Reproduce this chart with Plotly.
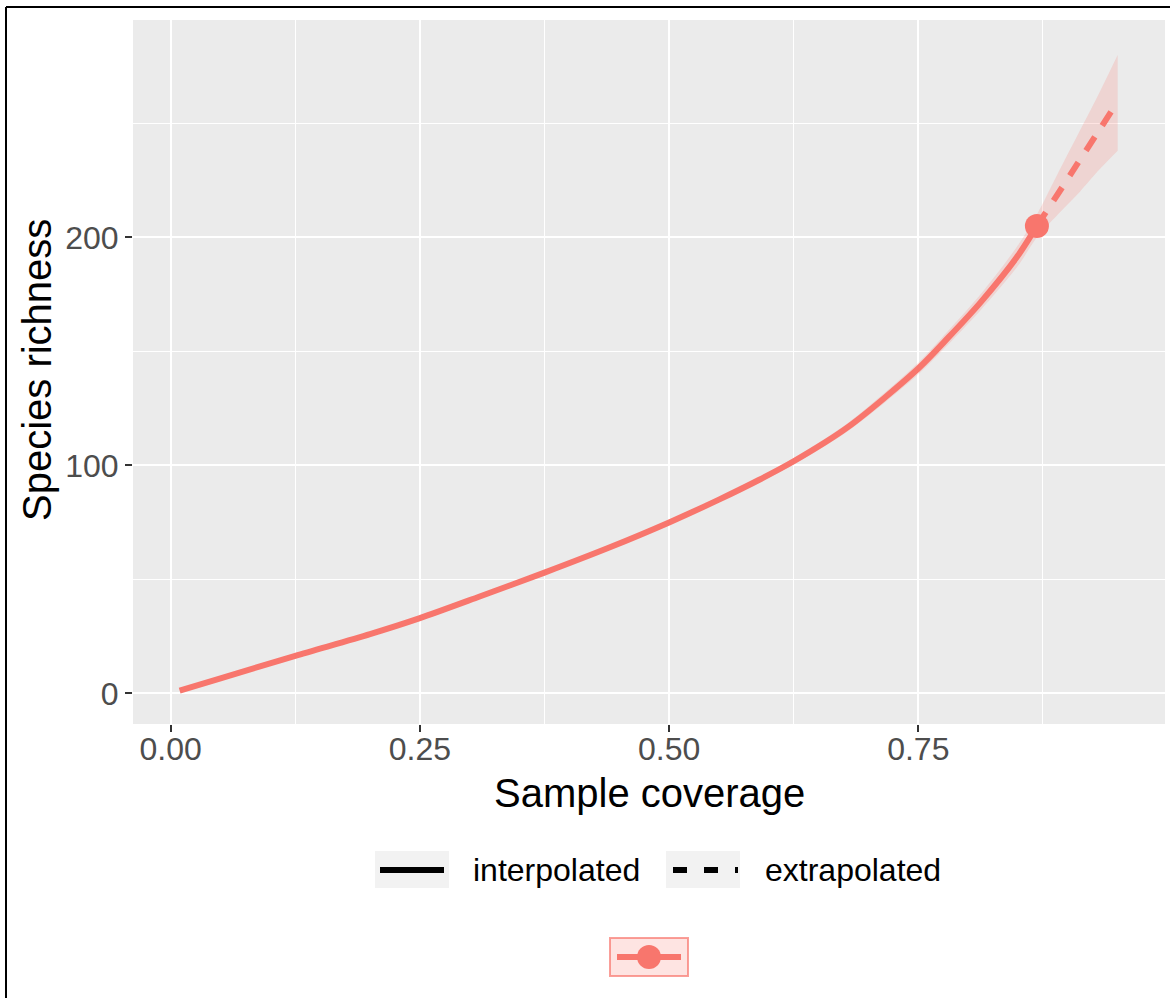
import plotly.graph_objects as go

# Coverage-based rarefaction (interpolated) and extrapolation of species richness
coverage_interp = [0.009, 0.05, 0.125, 0.2, 0.25, 0.31, 0.375, 0.44, 0.5, 0.55,
                   0.59, 0.625, 0.68, 0.75, 0.78, 0.8125, 0.85, 0.869]
richness_interp = [1.2, 6.6, 16.5, 26, 33, 42.5, 53, 64, 75, 85,
                   93.6, 101.8, 117, 142.5, 156, 171.5, 192, 205]
lower_interp = [1.2, 6.6, 16.3, 25.7, 32.6, 42, 52.4, 63.3, 74.1, 84,
                92.4, 100.4, 115.2, 140, 153, 168, 187.5, 200]
upper_interp = [1.2, 6.6, 16.7, 26.3, 33.4, 43, 53.6, 64.7, 75.9, 86,
                94.8, 103.2, 118.8, 145, 159, 175, 196.5, 210]

coverage_extrap = [0.869, 0.89, 0.91, 0.93, 0.95]
richness_extrap = [205, 219, 232.5, 246, 259.5]
lower_extrap = [200, 210, 219, 229, 238]
upper_extrap = [210, 228, 245, 262, 280]

observed_coverage = 0.869
observed_richness = 205

x_ticks = [0, 0.25, 0.5, 0.75]
y_ticks = [0, 100, 200]
legend_labels = ["interpolated", "extrapolated"]
x_title = "Sample coverage"
y_title = "Species richness"

LINE_COLOR = "#F8766D"
BAND_COLOR = "rgba(248,118,109,0.2)"
FONT = "Liberation Sans, Arial, sans-serif"

W, H = 1170, 998
PL, PR, PT, PB = 133, 1165, 20, 724  # panel edges in pixels


def px(xp):
    return (xp - PL) / (PR - PL)


def py(yp):
    return (PB - yp) / (PB - PT)


band_x = coverage_interp + coverage_extrap[1:]
band_lo = lower_interp + lower_extrap[1:]
band_hi = upper_interp + upper_extrap[1:]

fig = go.Figure()

# confidence band
fig.add_trace(go.Scatter(x=band_x, y=band_lo, mode="lines",
                         line=dict(width=0, color=BAND_COLOR, shape="spline", smoothing=0.8),
                         hoverinfo="skip", showlegend=False))
fig.add_trace(go.Scatter(x=band_x, y=band_hi, mode="lines", fill="tonexty",
                         fillcolor=BAND_COLOR,
                         line=dict(width=0, color=BAND_COLOR, shape="spline", smoothing=0.8),
                         hoverinfo="skip", showlegend=False))

# interpolated curve
fig.add_trace(go.Scatter(x=coverage_interp, y=richness_interp, mode="lines",
                         line=dict(color=LINE_COLOR, width=6, shape="spline", smoothing=0.8),
                         name=legend_labels[0], showlegend=False))
# extrapolated curve
fig.add_trace(go.Scatter(x=coverage_extrap, y=richness_extrap, mode="lines",
                         line=dict(color=LINE_COLOR, width=6, dash="16px,14px",
                                   shape="spline", smoothing=0.8),
                         name=legend_labels[1], showlegend=False))
# observed sample
fig.add_trace(go.Scatter(x=[observed_coverage], y=[observed_richness], mode="markers",
                         marker=dict(color=LINE_COLOR, size=24, line=dict(width=0)),
                         showlegend=False))

axis_common = dict(
    showgrid=True, gridcolor="white", gridwidth=2.2,
    zeroline=False, showline=False,
    ticks="outside", ticklen=7, tickwidth=2, tickcolor="#333333",
    tickfont=dict(family=FONT, size=32, color="#4D4D4D"),
)

fig.update_xaxes(range=[-0.0378, 0.9975], tickmode="array", tickvals=x_ticks,
                 tickformat=".2f", ticklabelstandoff=-10,
                 minor=dict(dtick=0.125, tick0=0, showgrid=True, gridcolor="white",
                            gridwidth=1, ticks=""),
                 **axis_common)
fig.update_yaxes(range=[-13.4, 295.3], tickmode="array", tickvals=y_ticks,
                 minor=dict(dtick=50, tick0=0, showgrid=True, gridcolor="white",
                            gridwidth=1, ticks=""),
                 **axis_common)

shapes = []
# outer frame (top and left)
shapes.append(dict(type="line", xref="paper", yref="paper",
                   x0=px(6), x1=px(1172), y0=py(7), y1=py(7),
                   line=dict(color="black", width=2)))
shapes.append(dict(type="line", xref="paper", yref="paper",
                   x0=px(6), x1=px(6), y0=py(7), y1=py(1000),
                   line=dict(color="black", width=2)))

# linetype legend keys
row1 = 870
for x0, x1 in [(375, 449), (666, 740)]:
    shapes.append(dict(type="rect", xref="paper", yref="paper",
                       x0=px(x0), x1=px(x1), y0=py(888), y1=py(851),
                       fillcolor="#F2F2F2", line=dict(width=0)))
shapes.append(dict(type="line", xref="paper", yref="paper",
                   x0=px(380), x1=px(444), y0=py(row1), y1=py(row1),
                   line=dict(color="black", width=6)))
shapes.append(dict(type="line", xref="paper", yref="paper",
                   x0=px(673), x1=px(738), y0=py(row1), y1=py(row1),
                   line=dict(color="black", width=6, dash="14px,17px")))

# colour legend key
row2 = 957
shapes.append(dict(type="rect", xref="paper", yref="paper",
                   x0=px(610), x1=px(688), y0=py(976), y1=py(938),
                   fillcolor=BAND_COLOR, line=dict(color="rgba(248,118,109,0.7)", width=2)))
shapes.append(dict(type="line", xref="paper", yref="paper",
                   x0=px(617), x1=px(681), y0=py(row2), y1=py(row2),
                   line=dict(color=LINE_COLOR, width=6)))
shapes.append(dict(type="circle", xref="paper", yref="paper",
                   x0=px(637), x1=px(661), y0=py(row2 + 12), y1=py(row2 - 12),
                   fillcolor=LINE_COLOR, line=dict(width=0)))

annotations = [
    dict(text=legend_labels[0], x=px(471), y=py(row1), xref="paper", yref="paper",
         xanchor="left", yanchor="middle", showarrow=False,
         font=dict(family=FONT, size=32, color="black")),
    dict(text=legend_labels[1], x=px(763), y=py(row1), xref="paper", yref="paper",
         xanchor="left", yanchor="middle", showarrow=False,
         font=dict(family=FONT, size=32, color="black")),
    dict(text=x_title, x=px(649), y=py(793), xref="paper", yref="paper",
         xanchor="center", yanchor="middle", showarrow=False,
         font=dict(family=FONT, size=40, color="black")),
    dict(text=y_title, x=px(37), y=py(370), xref="paper", yref="paper",
         xanchor="center", yanchor="middle", showarrow=False, textangle=-90,
         font=dict(family=FONT, size=40, color="black")),
]

fig.update_layout(
    width=W, height=H,
    margin=dict(l=PL, r=W - PR, t=PT, b=H - PB, pad=0),
    paper_bgcolor="white", plot_bgcolor="#EBEBEB",
    showlegend=False,
    shapes=shapes, annotations=annotations,
    font=dict(family=FONT),
)

fig.write_html("out.html")
